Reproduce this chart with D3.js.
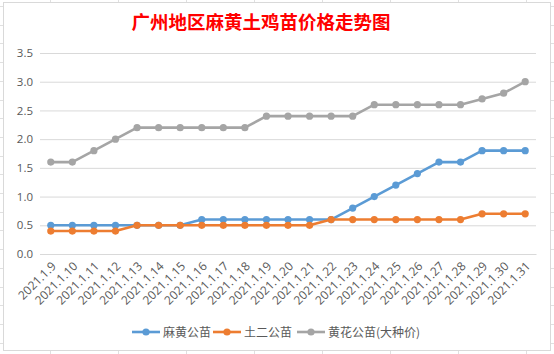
<!DOCTYPE html>
<html><head><meta charset="utf-8">
<script src="https://cdn.jsdelivr.net/npm/d3@7"></script>
<style>body{margin:0;background:#fff}svg{display:block}</style>
</head><body>
<svg id="c" width="554" height="354"></svg>
<script>
const categories = ["2021.1.9","2021.1.10","2021.1.11","2021.1.12","2021.1.13","2021.1.14","2021.1.15","2021.1.16","2021.1.17","2021.1.18","2021.1.19","2021.1.20","2021.1.21","2021.1.22","2021.1.23","2021.1.24","2021.1.25","2021.1.26","2021.1.27","2021.1.28","2021.1.29","2021.1.30","2021.1.31"];
const mahuang = [0.5,0.5,0.5,0.5,0.5,0.5,0.5,0.6,0.6,0.6,0.6,0.6,0.6,0.6,0.8,1.0,1.2,1.4,1.6,1.6,1.8,1.8,1.8];
const tuer = [0.4,0.4,0.4,0.4,0.5,0.5,0.5,0.5,0.5,0.5,0.5,0.5,0.5,0.6,0.6,0.6,0.6,0.6,0.6,0.6,0.7,0.7,0.7];
const huanghua = [1.6,1.6,1.8,2.0,2.2,2.2,2.2,2.2,2.2,2.2,2.4,2.4,2.4,2.4,2.4,2.6,2.6,2.6,2.6,2.6,2.7,2.8,3.0];
const seriesNames = ["麻黄公苗","土二公苗","黄花公苗(大种价)"];
const yTicks = [0,0.5,1.0,1.5,2.0,2.5,3.0,3.5];
const title = "广州地区麻黄土鸡苗价格走势图";

const colors = ["#5B9BD5","#ED7D31","#A5A5A5"];
const seriesData = [mahuang, tuer, huanghua];
const svg = d3.select("#c");

// spreadsheet cell lines behind the chart
const bg = svg.append("g").attr("stroke","#e0e0e0").attr("stroke-width",1);
[50,118,186,254,322,390,458,526].forEach(x=>bg.append("line").attr("x1",x+0.5).attr("x2",x+0.5).attr("y1",0).attr("y2",354));
d3.range(6,354,18.7).forEach(y=>bg.append("line").attr("x1",0).attr("x2",554).attr("y1",Math.round(y)+0.5).attr("y2",Math.round(y)+0.5));

svg.append("rect").attr("x",3.5).attr("y",2.5).attr("width",547).attr("height",348)
  .attr("fill","#fff").attr("stroke","#d9d9d9");

svg.append("text").attr("x",261).attr("y",29).attr("text-anchor","middle")
  .attr("font-family","'Noto Sans CJK SC'").attr("font-weight","bold").attr("font-size",18.5)
  .attr("fill","#FF0000").text(title);

const x = d3.scaleBand().domain(categories).range([40,536]);
const y = d3.scaleLinear().domain([0,3.5]).range([254,53]);

const yAxis = svg.append("g").attr("transform","translate(40,0)")
  .call(d3.axisLeft(y).tickValues(yTicks).tickFormat(d3.format(".1f")).tickSize(-496).tickPadding(7));
yAxis.select(".domain").remove();
yAxis.selectAll(".tick line").attr("stroke","#d9d9d9");
yAxis.selectAll(".tick text").attr("fill","#595959").attr("font-size",11.5).attr("font-family","'Open Sans'");

const xAxis = svg.append("g").attr("transform","translate(0,254)")
  .call(d3.axisBottom(x).tickSize(0));
xAxis.select(".domain").attr("stroke","#d9d9d9");
xAxis.selectAll(".tick text").attr("fill","#595959").attr("font-size",12).attr("font-family","'Open Sans'")
  .attr("text-anchor","end").attr("dy",0).attr("y",0)
  .attr("transform","translate(6,13) rotate(-45)");

const line = d3.line().x((d,i)=>x(categories[i])+x.bandwidth()/2).y(d=>y(d));
seriesData.forEach((s,k)=>{
  const g = svg.append("g");
  g.append("path").attr("d",line(s)).attr("fill","none").attr("stroke",colors[k]).attr("stroke-width",2.6).attr("stroke-linejoin","round");
  g.selectAll("circle").data(s).join("circle")
    .attr("cx",(d,i)=>x(categories[i])+x.bandwidth()/2).attr("cy",d=>y(d)).attr("r",3.6).attr("fill",colors[k]);
});

const legX = [132,213,297];
seriesNames.forEach((n,k)=>{
  const g = svg.append("g").attr("transform",`translate(${legX[k]},332)`);
  g.append("line").attr("x1",0).attr("x2",28).attr("stroke",colors[k]).attr("stroke-width",2.6);
  g.append("circle").attr("cx",14).attr("r",3.6).attr("fill",colors[k]);
  g.append("text").attr("x",31).attr("y",4.5).attr("font-size",12).attr("fill","#595959")
    .attr("font-family","'Noto Sans CJK SC'").text(n);
});
</script>
</body></html>
